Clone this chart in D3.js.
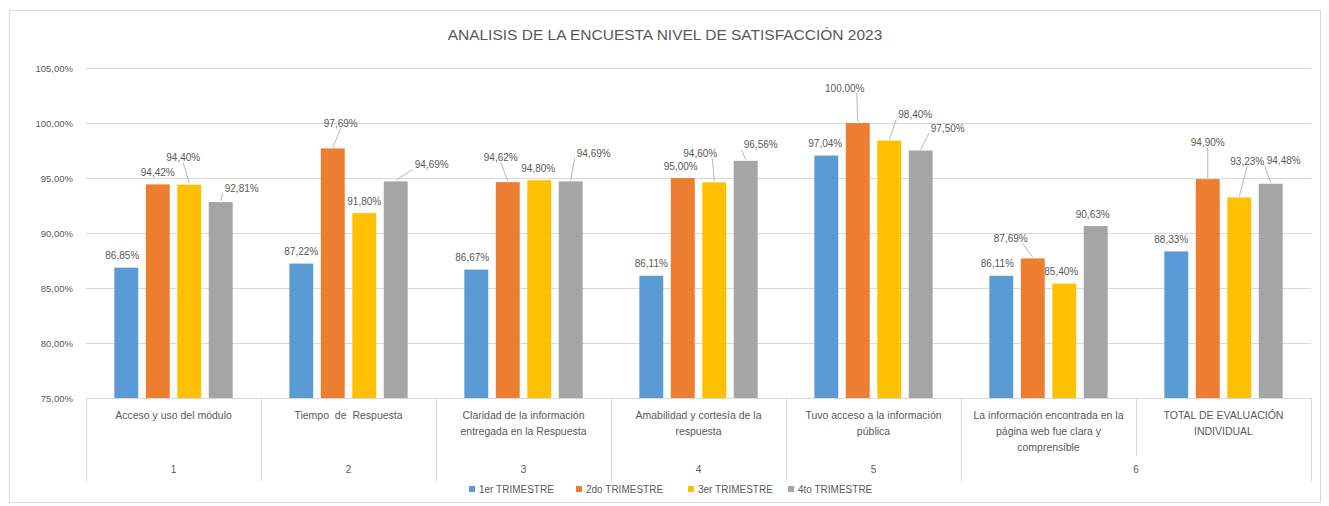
<!DOCTYPE html>
<html>
<head>
    <script src="https://d3js.org/d3.v7.min.js"></script>
    <title>Analisis encuesta satisfaccion 2023</title>
    <style>
        body { margin: 0; background: #fff; }
        text { font-family: "Liberation Sans", Arial, sans-serif; fill: #595959; }
    </style>
</head>
<body>
    <svg id="plot" height="506" width="1329"></svg>
    <script>
        // data
        const categories = [
            "Acceso y uso del módulo",
            "Tiempo  de  Respuesta",
            "Claridad de la información entregada en la Respuesta",
            "Amabilidad y cortesía de la respuesta",
            "Tuvo acceso a la información pública",
            "La información encontrada en la página web fue clara y comprensible",
            "TOTAL DE EVALUACIÓN INDIVIDUAL"
        ];
        // how each category name is broken into lines
        const categoryLines = [
            ["Acceso y uso del módulo"],
            ["Tiempo  de  Respuesta"],
            ["Claridad de la información", "entregada en la Respuesta"],
            ["Amabilidad y cortesía de la", "respuesta"],
            ["Tuvo acceso a la información", "pública"],
            ["La información encontrada en la", "página web fue clara y", "comprensible"],
            ["TOTAL DE EVALUACIÓN", "INDIVIDUAL"]
        ];
        const categoryGroup = ["1", "2", "3", "4", "5", "6", "6"];
        const seriesNames = ["1er TRIMESTRE", "2do TRIMESTRE", "3er TRIMESTRE", "4to TRIMESTRE"];
        const trimestre1 = [86.85, 87.22, 86.67, 86.11, 97.04, 86.11, 88.33];
        const trimestre2 = [94.42, 97.69, 94.62, 95.00, 100.00, 87.69, 94.90];
        const trimestre3 = [94.40, 91.80, 94.80, 94.60, 98.40, 85.40, 93.23];
        const trimestre4 = [92.81, 94.69, 94.69, 96.56, 97.50, 90.63, 94.48];
        const yTicks = [75, 80, 85, 90, 95, 100, 105];

        // label nudges (px) where excel had moved the data labels, [dx, dy] per series per category
        const labelNudge = [
            [[-4, 0], [0, 0], [-4, 0], [0, 0], [-1, 0], [-4, 0], [-5, 0]],
            [[0, 0], [8, -13], [-7, -13], [-2, 0], [-13, -23], [-22, -8], [0, -25]],
            [[-6, -15], [0, 0], [-1, 0], [-14, -17], [26, -14], [-3, 0], [8, -24]],
            [[21, -2], [36, -5], [23, -16], [15, -4], [27, -10], [-3, 0], [13, -11]]
        ];

        const colors = ["#5b9bd5", "#ed7d31", "#ffc000", "#a5a5a5"];
        const values = [trimestre1, trimestre2, trimestre3, trimestre4];

        const svg = d3.select('svg#plot');
        const plot = {left: 86, right: 1311, top: 68, bottom: 398};

        const locale = d3.formatLocale({decimal: ",", thousands: ".", grouping: [3], currency: ["", "€"]});
        const fmt = v => locale.format(".2f")(v) + "%";

        // outer frame
        svg.append("rect")
            .attr("x", 9.5).attr("y", 10.5)
            .attr("width", 1311).attr("height", 492)
            .attr("fill", "none")
            .attr("stroke", "#d9d9d9");

        // title
        svg.append("text")
            .attr("x", 665).attr("y", 40)
            .attr("text-anchor", "middle")
            .attr("font-size", "15.5px")
            .text("ANALISIS DE LA ENCUESTA NIVEL DE SATISFACCIÓN 2023");

        //SCALES
        const y = d3.scaleLinear().domain([75, 105]).range([plot.bottom, plot.top]);
        const x = d3.scaleBand().domain(d3.range(categories.length)).range([plot.left, plot.right]).padding(0);
        const xs = d3.scaleBand().domain(d3.range(seriesNames.length))
            .range([0, x.bandwidth()])
            .paddingInner(0.24).paddingOuter(0.9);

        // gridlines + y labels
        yTicks.forEach(t => {
            svg.append("line")
                .attr("x1", plot.left).attr("x2", plot.right)
                .attr("y1", Math.round(y(t)) + 0.5).attr("y2", Math.round(y(t)) + 0.5)
                .attr("stroke", "#d9d9d9");
            svg.append("text")
                .attr("x", 73).attr("y", y(t) + 3.5)
                .attr("text-anchor", "end")
                .attr("font-size", "9.5px")
                .text(fmt(t));
        });

        // bars
        values.forEach((vals, s) => {
            svg.append("g").selectAll("rect")
                .data(vals)
                .join("rect")
                .attr("x", (d, i) => x(i) + xs(s))
                .attr("y", d => y(d))
                .attr("width", xs.bandwidth())
                .attr("height", d => y(75) - y(d))
                .attr("fill", colors[s]);
        });

        // data labels with leader lines
        values.forEach((vals, s) => {
            vals.forEach((v, i) => {
                const bx = x(i) + xs(s) + xs.bandwidth() / 2;
                const by = y(v);
                const [dx, dy] = labelNudge[s][i];
                const lx = bx + dx, ly = by - 12 + dy;
                if (Math.abs(dx) > 10 || dy < -6) {
                    const ex = dx > 10 ? lx - 19 : (dx < -10 ? lx + 12 : lx);
                    svg.append("line")
                        .attr("x1", bx).attr("y1", by - 1)
                        .attr("x2", ex).attr("y2", ly + 5)
                        .attr("stroke", "#a6a6a6")
                        .attr("stroke-width", 0.8);
                }
                svg.append("text")
                    .attr("x", lx).attr("y", ly + 3.5)
                    .attr("text-anchor", "middle")
                    .attr("font-size", "10px")
                    .text(fmt(v));
            });
        });

        // category axis (two levels)
        const lvl1Bottom = 456, lvl2Bottom = 481;
        d3.range(categories.length + 1).forEach(i => {
            const xx = i < categories.length ? x(i) : plot.right;
            const sameGroup = i > 0 && i < categories.length && categoryGroup[i] === categoryGroup[i - 1];
            svg.append("line")
                .attr("x1", Math.round(xx) + 0.5).attr("x2", Math.round(xx) + 0.5)
                .attr("y1", plot.bottom).attr("y2", sameGroup ? lvl1Bottom : lvl2Bottom)
                .attr("stroke", "#d9d9d9");
        });

        categoryLines.forEach((lines, i) => {
            const t = svg.append("text")
                .attr("text-anchor", "middle")
                .attr("font-size", "10.5px")
                .attr("xml:space", "preserve")
                .style("white-space", "pre");
            lines.forEach((ln, k) => {
                t.append("tspan")
                    .attr("x", x(i) + x.bandwidth() / 2)
                    .attr("y", 419 + k * 16)
                    .text(ln);
            });
        });

        const groupNames = Array.from(new Set(categoryGroup));
        groupNames.forEach(g => {
            const idx = categoryGroup.map((c, i) => c === g ? i : -1).filter(i => i >= 0);
            const cx = (x(idx[0]) + x(idx[idx.length - 1]) + x.bandwidth()) / 2;
            svg.append("text")
                .attr("x", cx).attr("y", 473)
                .attr("text-anchor", "middle")
                .attr("font-size", "10px")
                .text(g);
        });

        // legend
        const legendX = [469, 576, 688, 788];
        seriesNames.forEach((name, s) => {
            svg.append("rect")
                .attr("x", legendX[s]).attr("y", 486)
                .attr("width", 6).attr("height", 6)
                .attr("fill", colors[s]);
            svg.append("text")
                .attr("x", legendX[s] + 10).attr("y", 492.5)
                .attr("font-size", "10px")
                .text(name);
        });
    </script>
</body>
</html>
